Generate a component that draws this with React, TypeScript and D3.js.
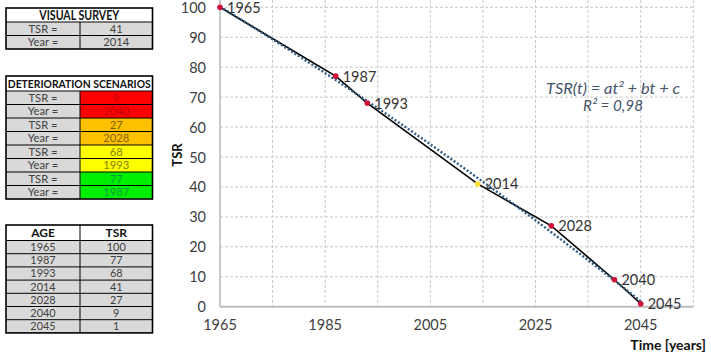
import React from "react";
import * as d3 from "d3";

const years = [1965, 1987, 1993, 2014, 2028, 2040, 2045];
const tsr = [100, 77, 68, 41, 27, 9, 1];
const surveyYear = 2014;
const xTicks = [1965, 1985, 2005, 2025, 2045];
const yTicks = [0, 10, 20, 30, 40, 50, 60, 70, 80, 90, 100];
const xGrid = [1975, 1985, 1995, 2005, 2015, 2025, 2035, 2045, 2055];
const visualRows = [["TSR =", "41"], ["Year =", "2014"]];
const scenarioRows = [
  ["TSR =", "9"], ["Year =", "2040"],
  ["TSR =", "27"], ["Year =", "2028"],
  ["TSR =", "68"], ["Year =", "1993"],
  ["TSR =", "77"], ["Year =", "1987"],
];
const scenarioColors = [
  ["#FF0000", "#C00000"], ["#FF0000", "#C00000"],
  ["#FFC000", "#7F6000"], ["#FFC000", "#7F6000"],
  ["#FFFF00", "#7F7F00"], ["#FFFF00", "#7F7F00"],
  ["#00EE00", "#00A040"], ["#00EE00", "#00A040"],
];

function quadFit(xs: number[], ys: number[]) {
  const x0 = 2000;
  const s = [0, 0, 0, 0, 0];
  const t = [0, 0, 0];
  xs.forEach((xv, i) => {
    const x = xv - x0;
    for (let k = 0; k < 5; k++) s[k] += Math.pow(x, k);
    for (let k = 0; k < 3; k++) t[k] += ys[i] * Math.pow(x, k);
  });
  const M = [
    [s[0], s[1], s[2], t[0]],
    [s[1], s[2], s[3], t[1]],
    [s[2], s[3], s[4], t[2]],
  ];
  for (let i = 0; i < 3; i++) {
    for (let j = i + 1; j < 3; j++) {
      const f = M[j][i] / M[i][i];
      for (let k = i; k < 4; k++) M[j][k] -= f * M[i][k];
    }
  }
  const c = [0, 0, 0];
  for (let i = 2; i >= 0; i--) {
    let v = M[i][3];
    for (let k = i + 1; k < 3; k++) v -= M[i][k] * c[k];
    c[i] = v / M[i][i];
  }
  return (xv: number) => {
    const x = xv - x0;
    return c[0] + c[1] * x + c[2] * x * x;
  };
}

const FONT = "Lato, 'Open Sans', sans-serif";

function Table({ x, y, w, header, headerH, rowH, rows, colors, headerSize, headerLen, rowSize }: any) {
  const split = x + 74;
  const h = headerH + rowH * rows.length;
  const fs = rowSize || 11.5;
  return (
    <g fontFamily={FONT}>
      <rect x={x} y={y} width={w} height={headerH} fill="#fff" />
      {rows.map((r: string[], i: number) => {
        const ry = y + headerH + i * rowH;
        const bg = colors ? colors[i][0] : "#D9D9D9";
        const fc = colors ? colors[i][1] : "#404040";
        return (
          <g key={i}>
            <rect x={x} y={ry} width={split - x} height={rowH} fill="#D9D9D9" />
            <rect x={split} y={ry} width={x + w - split} height={rowH} fill={bg} />
            <line x1={x} x2={x + w} y1={ry} y2={ry} stroke="#000" strokeWidth={1} />
            <text x={(x + split) / 2} y={ry + rowH / 2 + fs * 0.36} textAnchor="middle" fontSize={fs} fill="#404040">{r[0]}</text>
            <text x={(split + x + w) / 2} y={ry + rowH / 2 + fs * 0.36} textAnchor="middle" fontSize={fs} fill={fc}>{r[1]}</text>
          </g>
        );
      })}
      {Array.isArray(header) ? (
        <>
          <text x={(x + split) / 2} y={y + headerH / 2 + 4.5} textAnchor="middle" fontSize={12} fontWeight="bold" fill="#111">{header[0]}</text>
          <text x={(split + x + w) / 2} y={y + headerH / 2 + 4.5} textAnchor="middle" fontSize={12} fontWeight="bold" fill="#111">{header[1]}</text>
          <line x1={split} x2={split} y1={y} y2={y + h} stroke="#000" />
        </>
      ) : (
        <>
          <text x={x + w / 2} y={y + headerH / 2 + 4.5} textAnchor="middle" fontSize={headerSize || 12} fontWeight="bold" fill="#111"
            textLength={headerLen} lengthAdjust="spacingAndGlyphs">{header}</text>
          <line x1={split} x2={split} y1={y + headerH} y2={y + h} stroke="#000" />
        </>
      )}
      <rect x={x} y={y} width={w} height={h} fill="none" stroke="#000" strokeWidth={1.6} />
    </g>
  );
}

export default function App() {
  const W = 711, H = 362;
  const x = d3.scaleLinear().domain([1965, 2055]).range([220, 693.3]);
  const y = d3.scaleLinear().domain([0, 100]).range([306.7, 7.3]);
  const fit = quadFit(years, tsr);
  const trendPts = d3.range(1965, 2045.01, 0.5).map((t) => [t, fit(t)] as [number, number]);
  const line = d3.line<[number, number]>().x((d) => x(d[0])).y((d) => y(d[1]));
  const dataPts = years.map((t, i) => [t, tsr[i]] as [number, number]);
  const top = 0;
  return (
    <svg width={W} height={H} style={{ position: "absolute", left: 0, top: 0, background: "#fff" }}>
      <rect width={W} height={H} fill="#fff" />
      {yTicks.filter((v) => v > 0).map((v) => (
        <line key={"hy" + v} x1={x(1965)} x2={x(2055)} y1={y(v)} y2={y(v)} stroke="#C8C8C8" strokeDasharray="3,2" />
      ))}
      {xGrid.map((v) => (
        <line key={"gx" + v} x1={x(v)} x2={x(v)} y1={top} y2={y(0)} stroke="#C8C8C8" strokeDasharray="3,2" />
      ))}
      <line x1={x(1965)} x2={x(1965)} y1={top} y2={y(0)} stroke="#A6A6A6" strokeWidth={1.2} />
      <line x1={x(1965)} x2={x(2055)} y1={y(0)} y2={y(0)} stroke="#BFBFBF" strokeWidth={2} />
      {yTicks.map((v) => (
        <text key={"ty" + v} x={206} y={y(v) + 5.5} textAnchor="end" fontFamily={FONT} fontSize={14.5} fill="#404040">{v}</text>
      ))}
      {xTicks.map((v) => (
        <text key={"tx" + v} x={x(v)} y={330} textAnchor="middle" fontFamily={FONT} fontSize={14.5} fill="#404040">{v}</text>
      ))}
      <text transform="translate(182,155) rotate(-90)" textAnchor="middle" fontFamily={FONT} fontSize={13} fontWeight="bold" fill="#111">TSR</text>
      <text x={706} y={350} textAnchor="end" fontFamily={FONT} fontSize={14} fontWeight="bold" fill="#111">Time [years]</text>
      <path d={line(dataPts) || ""} fill="none" stroke="#000" strokeWidth={1.6} />
      <path d={line(trendPts) || ""} fill="none" stroke="#2E5A84" strokeWidth={2.4} strokeDasharray="2,2" />
      {dataPts.map((d, i) => (
        <g key={"p" + i}>
          <circle cx={x(d[0])} cy={y(d[1])} r={2.8} fill={d[0] === surveyYear ? "#FFE033" : "#D0103A"} />
          <text x={x(d[0]) + 7} y={y(d[1]) + 5.5} fontFamily={FONT} fontSize={14.5} fill="#333">{d[0]}</text>
        </g>
      ))}
      <text x={613} y={94} textAnchor="middle" fontFamily={FONT} fontSize={15} fontStyle="italic" fill="#44546A" textLength={134} lengthAdjust="spacingAndGlyphs">TSR(t) = at² + bt + c</text>
      <text x={613} y={111} textAnchor="middle" fontFamily={FONT} fontSize={15} fontStyle="italic" fill="#44546A" textLength={60} lengthAdjust="spacingAndGlyphs">R² = 0,98</text>
      <Table x={6} y={8} w={146.5} header="VISUAL SURVEY" headerH={14} rowH={13.5} rows={visualRows} headerSize={12.5} headerLen={80} rowSize={11.2} />
      <Table x={6} y={76} w={146.5} header="DETERIORATION SCENARIOS" headerH={15} rowH={13.5} rows={scenarioRows} colors={scenarioColors} headerLen={143} rowSize={11.2} />
      <Table x={6} y={225} w={146.5} header={["AGE", "TSR"]} headerH={15.5} rowH={13.2} rows={years.map((t, i) => [String(t), String(tsr[i])])} rowSize={10.9} />
    </svg>
  );
}
